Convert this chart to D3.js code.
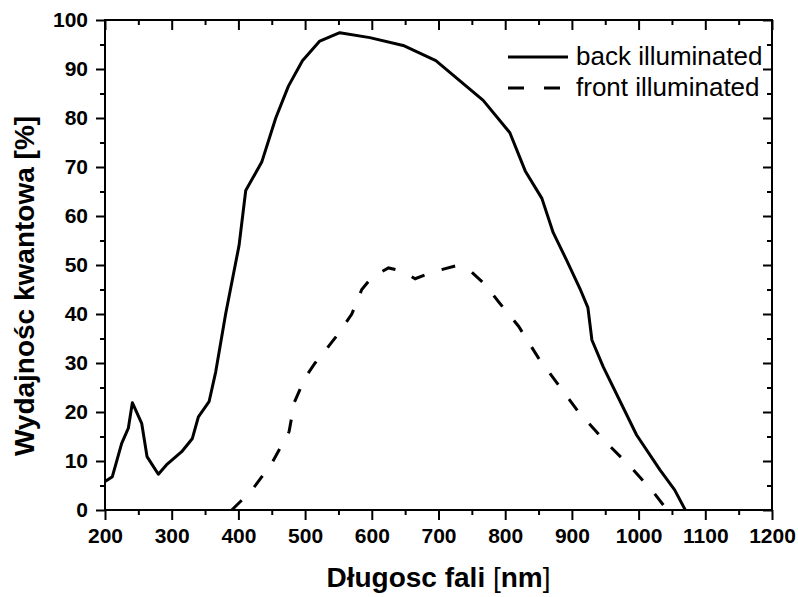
<!DOCTYPE html>
<html>
<head>
<meta charset="utf-8">
<script src="https://cdn.jsdelivr.net/npm/d3@7"></script>
<style>
  html, body { margin: 0; padding: 0; background: #fff; }
  svg { display: block; }
  text { font-family: "Liberation Sans", Arial, sans-serif; fill: #000; }
</style>
</head>
<body>
<svg id="chart" width="798" height="597"></svg>
<script>
// Quantum efficiency vs. wavelength [nm, %]
const backWavelength = [200, 211, 225, 235, 241, 255, 263, 280, 292, 315, 331, 340, 356, 366, 381, 401, 411, 435, 456, 475, 496, 522, 552, 597, 647, 696, 767, 807, 830, 855, 872, 892, 912, 924, 930, 947, 997, 1032, 1054, 1070];
const backQE        = [5.8, 6.8, 13.6, 16.7, 21.9, 17.7, 10.9, 7.3, 9.2, 11.9, 14.6, 19.0, 22.1, 28.2, 40.1, 54.0, 65.2, 71.0, 80.0, 86.5, 91.7, 95.7, 97.4, 96.4, 94.8, 91.7, 83.6, 77.0, 69.2, 63.6, 56.6, 51.0, 45.2, 41.3, 34.7, 29.2, 15.3, 8.2, 4.1, 0.0];

const frontWavelength = [390, 420, 450, 476, 484, 500, 515, 530, 550, 570, 585, 600, 625, 645, 665, 690, 725, 750, 770, 790, 820, 850, 880, 910, 950, 990, 1020, 1043];
const frontQE         = [0.0, 4.0, 9.5, 16.0, 22.0, 27.0, 30.0, 32.5, 36.0, 40.0, 45.0, 47.5, 49.4, 48.8, 47.2, 48.5, 49.8, 48.5, 46.0, 42.5, 37.5, 31.0, 25.5, 20.0, 14.0, 8.5, 4.0, 0.0];

const seriesNames = ["back illuminated", "front illuminated"];
const xTicks = [200, 300, 400, 500, 600, 700, 800, 900, 1000, 1100, 1200];
const yTicks = [0, 10, 20, 30, 40, 50, 60, 70, 80, 90, 100];
const xTitle = "Długosc fali ";
const yTitle = "Wydajnośc kwantowa [%]";

const svg = d3.select("#chart");
const plotLeft = 105, plotRight = 772, plotTop = 20, plotBottom = 510;

const x = d3.scaleLinear().domain([200, 1200]).range([plotLeft, plotRight]);
const y = d3.scaleLinear().domain([0, 100]).range([plotBottom, plotTop]);

const xMinor = d3.range(250, 1200, 100);
const yMinor = d3.range(5, 100, 10);

function styleAxis(g) {
  g.select(".domain").remove();
  g.selectAll(".tick line").attr("stroke", "#000").attr("stroke-width", 2);
}
function styleLabels(g) {
  g.selectAll("text").attr("font-size", 21).attr("font-weight", "bold")
    .attr("font-family", "'Liberation Sans', Arial, sans-serif").attr("fill", "#000");
}

// bottom axis: outward ticks with labels
svg.append("g").attr("transform", `translate(0,${plotBottom})`)
  .call(d3.axisBottom(x).tickValues(xTicks).tickSize(10).tickPadding(8).tickFormat(d3.format("d")))
  .call(styleAxis).call(styleLabels);
svg.append("g").attr("transform", `translate(0,${plotBottom})`)
  .call(d3.axisBottom(x).tickValues(xMinor).tickSize(5).tickFormat(""))
  .call(styleAxis);

// top axis: inward ticks
svg.append("g").attr("transform", `translate(0,${plotTop})`)
  .call(d3.axisTop(x).tickValues(xTicks).tickSize(-10).tickFormat(""))
  .call(styleAxis);
svg.append("g").attr("transform", `translate(0,${plotTop})`)
  .call(d3.axisTop(x).tickValues(xMinor).tickSize(-5).tickFormat(""))
  .call(styleAxis);

// left axis: outward ticks with labels
svg.append("g").attr("transform", `translate(${plotLeft},0)`)
  .call(d3.axisLeft(y).tickValues(yTicks).tickSize(9).tickPadding(8).tickFormat(d3.format("d")))
  .call(styleAxis).call(styleLabels);
svg.append("g").attr("transform", `translate(${plotLeft},0)`)
  .call(d3.axisLeft(y).tickValues(yMinor).tickSize(5).tickFormat(""))
  .call(styleAxis);

// right axis: inward ticks
svg.append("g").attr("transform", `translate(${plotRight},0)`)
  .call(d3.axisRight(y).tickValues(yTicks).tickSize(-9).tickFormat(""))
  .call(styleAxis);
svg.append("g").attr("transform", `translate(${plotRight},0)`)
  .call(d3.axisRight(y).tickValues(yMinor).tickSize(-5).tickFormat(""))
  .call(styleAxis);

// frame
svg.append("rect")
  .attr("x", plotLeft).attr("y", plotTop)
  .attr("width", plotRight - plotLeft).attr("height", plotBottom - plotTop)
  .attr("fill", "none").attr("stroke", "#000").attr("stroke-width", 2);

// curves
const line = d3.line().x(d => x(d[0])).y(d => y(d[1]));
const backData = d3.zip(backWavelength, backQE);
const frontData = d3.zip(frontWavelength, frontQE);

svg.append("path").datum(backData)
  .attr("d", line).attr("fill", "none").attr("stroke", "#000")
  .attr("stroke-width", 3).attr("stroke-linejoin", "round");

svg.append("path").datum(frontData)
  .attr("d", line).attr("fill", "none").attr("stroke", "#000")
  .attr("stroke-width", 3).attr("stroke-dasharray", "14,18");

// legend
const legend = svg.append("g");
const legendRows = [
  { name: seriesNames[0], dash: null, ly: 57 },
  { name: seriesNames[1], dash: "16,20", ly: 88 }
];
legendRows.forEach(r => {
  legend.append("line")
    .attr("x1", 508).attr("x2", 568).attr("y1", r.ly).attr("y2", r.ly)
    .attr("stroke", "#000").attr("stroke-width", 3)
    .attr("stroke-dasharray", r.dash);
  legend.append("text")
    .attr("x", 576).attr("y", r.ly + 8)
    .attr("font-size", 26)
    .text(r.name);
});

// axis titles
const xt = svg.append("text")
  .attr("x", (plotLeft + plotRight) / 2).attr("y", 587)
  .attr("text-anchor", "middle")
  .attr("font-size", 28).attr("font-weight", "bold");
xt.append("tspan").text(xTitle);
xt.append("tspan").attr("font-weight", "normal").text("[");
xt.append("tspan").text("nm");
xt.append("tspan").attr("font-weight", "normal").text("]");

svg.append("text")
  .attr("transform", `translate(34,286) rotate(-90)`)
  .attr("text-anchor", "middle")
  .attr("font-size", 28).attr("font-weight", "bold")
  .text(yTitle);
</script>
</body>
</html>
